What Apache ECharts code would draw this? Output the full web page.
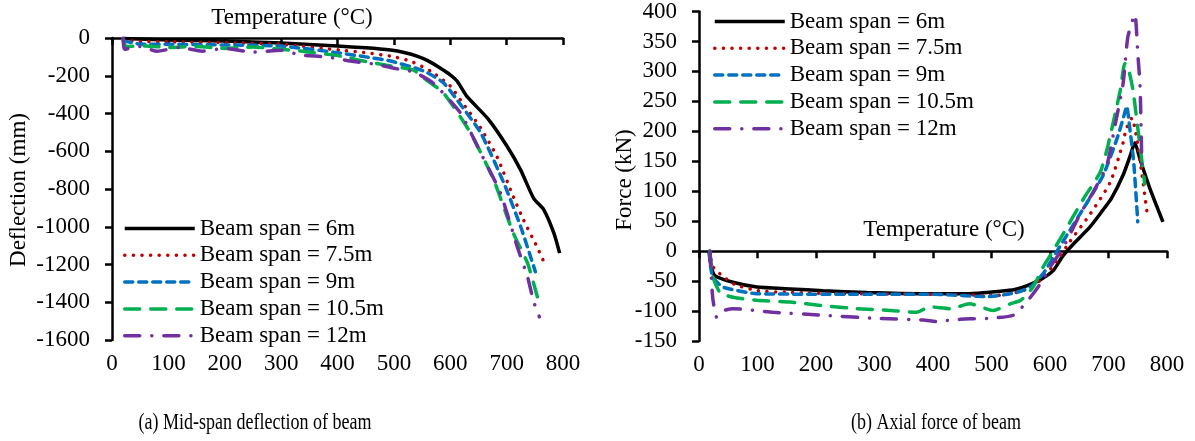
<!DOCTYPE html>
<html>
<head>
<meta charset="utf-8">
<script src="https://cdn.jsdelivr.net/npm/echarts@6/dist/echarts.min.js"></script>
<style>
  html, body { margin: 0; padding: 0; background: #fff; }
  #chart { width: 1195px; height: 441px; }
</style>
</head>
<body>
<div id="chart"></div>
<script>
// Series names shared by both panels
const spanNames = ['Beam span = 6m', 'Beam span = 7.5m', 'Beam span = 9m', 'Beam span = 10.5m', 'Beam span = 12m'];

// Panel (a): mid-span deflection (mm) against temperature (°C), [T, deflection]
const deflection6 = [[20,-3],[100,-10],[200,-16],[300,-27],[400,-43],[450,-52],[494,-64],[520,-78],[541,-96],[560,-120],[582,-159],[600,-195],[612,-228],[630,-311],[666,-425],[701,-575],[725,-700],[748,-850],[766,-910],[784,-1035],[794,-1140]];
const deflection75 = [[20,-10],[50,-18],[100,-20],[200,-25],[300,-33],[405,-64],[450,-78],[494,-96],[529,-122],[565,-175],[600,-254],[618,-328],[654,-477],[683,-630],[712,-842],[730,-964],[754,-1107],[767,-1192]];
const deflection9 = [[20,-15],[50,-32],[100,-33],[200,-37],[300,-43],[405,-80],[450,-100],[494,-122],[553,-175],[588,-238],[612,-328],[654,-503],[695,-768],[725,-1000],[751,-1238]];
const deflection105 = [[20,-5],[25,-45],[60,-42],[100,-50],[150,-45],[200,-55],[250,-48],[300,-60],[334,-69],[405,-96],[446,-122],[494,-148],[535,-170],[553,-212],[588,-292],[636,-503],[677,-752],[712,-1035],[737,-1192],[755,-1377]];
const deflection12 = [[20,0],[22,-60],[50,-45],[80,-70],[120,-50],[160,-70],[200,-55],[250,-75],[300,-65],[334,-90],[380,-100],[423,-122],[470,-140],[500,-160],[535,-180],[570,-240],[618,-397],[654,-609],[689,-821],[719,-1107],[737,-1265],[748,-1397],[758,-1477]];

// Panel (b): axial force (kN) against temperature (°C), [T, force]
const force6 = [[17,0],[20,-22],[27,-41],[58,-52],[99,-60],[156,-63],[212,-66],[287,-69],[383,-71],[460,-71],[515,-67],[540,-64],[560,-58],[583,-48],[605,-33],[622,-8],[640,12],[668,40],[690,68],[705,88],[725,127],[737,159],[745,181],[754,153],[771,104],[793,49]];
const force75 = [[18,0],[20,-11],[23,-25],[36,-38],[60,-55],[100,-66],[156,-69],[250,-71],[400,-72],[509,-74],[554,-66],[583,-49],[612,-16],[634,16],[668,61],[703,115],[725,181],[730,203],[740,222],[748,190],[757,130],[766,64]];
const force9 = [[18,0],[20,-27],[24,-44],[41,-60],[99,-71],[250,-72],[400,-72],[494,-76],[543,-69],[566,-60],[588,-38],[612,0],[622,16],[657,71],[691,127],[716,192],[729,235],[731,242],[737,200],[743,150],[750,49]];
const force105 = [[18,0],[22,-30],[24,-44],[36,-69],[58,-77],[99,-82],[156,-85],[212,-91],[270,-96],[327,-99],[372,-102],[395,-93],[429,-96],[463,-88],[503,-99],[532,-88],[550,-82],[571,-60],[588,-27],[605,0],[622,28],[657,87],[686,132],[699,176],[720,268],[728,313],[735,300],[742,268],[752,190],[762,112]];
const force12 = [[19,0],[22,-60],[24,-82],[30,-110],[40,-100],[58,-96],[127,-102],[212,-107],[298,-112],[383,-115],[410,-118],[429,-115],[463,-113],[497,-112],[537,-107],[560,-85],[583,-55],[600,-27],[622,5],[651,61],[674,99],[697,143],[711,209],[725,280],[733,357],[745,395],[750,330],[754,275],[757,140]];

const deflectionSets = [deflection6, deflection75, deflection9, deflection105, deflection12];
const forceSets = [force6, force75, force9, force105, force12];

const FONT = "'Liberation Serif', 'Times New Roman', serif";
const FONT_SIZE = 23;

const lineStyles = [
  { color: '#000000', width: 3.5, type: 'solid' },
  { color: '#C00000', width: 3.5, type: [0.1, 8.5], cap: 'round' },
  { color: '#0070C0', width: 3.5, type: [8, 6], cap: 'round' },
  { color: '#00B050', width: 3.5, type: [15, 11], cap: 'round' },
  { color: '#7030A0', width: 3.5, type: [15, 12, 0.1, 12], cap: 'round' }
];

function makeSeries(sets, axisIndex) {
  return sets.map((data, i) => ({
    name: spanNames[i],
    type: 'line',
    xAxisIndex: axisIndex,
    yAxisIndex: axisIndex,
    data: data,
    symbol: 'none',
    showSymbol: false,
    smooth: 0.2,
    lineStyle: lineStyles[i],
    itemStyle: { color: lineStyles[i].color },
    emphasis: { disabled: true },
    silent: true
  }));
}

const axisLineStyle = { color: '#000', width: 2.5 };
const labelStyle = { fontFamily: FONT, fontSize: FONT_SIZE, color: '#000', formatter: (v) => String(v) };

function xAxisCfg(gridIndex) {
  return {
    gridIndex: gridIndex, type: 'value', min: 0, max: 800, interval: 100,
    axisLine: { show: true, onZero: true, lineStyle: axisLineStyle },
    axisTick: { show: true, length: 7, lineStyle: axisLineStyle },
    axisLabel: Object.assign({ margin: 12 }, labelStyle),
    splitLine: { show: false }
  };
}

function yAxisCfg(gridIndex, min, max, interval) {
  return {
    gridIndex: gridIndex, type: 'value', min: min, max: max, interval: interval,
    axisLine: { show: true, onZero: false, lineStyle: axisLineStyle },
    axisTick: { show: true, length: 7, lineStyle: axisLineStyle },
    axisLabel: Object.assign({ margin: 22 }, labelStyle),
    splitLine: { show: false }
  };
}

// Legend shows only the stroke sample (no point marker)
const legendBase = {
  orient: 'vertical', itemWidth: 70, itemHeight: 14, itemGap: 3.8, padding: 0,
  selectedMode: false, data: spanNames,
  itemStyle: { opacity: 0 },
  lineStyle: { width: 3.5 },
  textStyle: { fontFamily: FONT, fontSize: FONT_SIZE, color: '#000', lineHeight: 23 }
};

function textEl(text, x, y, extra, size) {
  return Object.assign({
    type: 'text', x: x, y: y, silent: true,
    style: { text: text, font: (size || FONT_SIZE) + 'px ' + FONT, fill: '#000', align: 'center', verticalAlign: 'middle' }
  }, extra || {});
}

const chart = echarts.init(document.getElementById('chart'), null, { renderer: 'canvas' });
chart.setOption({
  backgroundColor: '#ffffff',
  animation: false,
  grid: [
    { left: 112, top: 38, width: 451, height: 302 },
    { left: 699, top: 7, width: 468, height: 334 }
  ],
  xAxis: [xAxisCfg(0), xAxisCfg(1)],
  yAxis: [yAxisCfg(0, -1600, 0, 200), yAxisCfg(1, -150, 400, 50)],
  legend: [
    Object.assign({ left: 123, top: 217 }, legendBase),
    Object.assign({ left: 713, top: 10 }, legendBase)
  ],
  series: makeSeries(deflectionSets, 0).concat(makeSeries(forceSets, 1)),
  graphic: [
    textEl('Temperature (°C)', 292, 18),
    textEl('Temperature (°C)', 944, 230),
    textEl('Deflection (mm)', 19, 190, { rotation: Math.PI / 2 }),
    textEl('Force (kN)', 625, 180, { rotation: Math.PI / 2 }),
    textEl('(a) Mid-span deflection of beam', 255, 423, { scaleX: 0.75 }, 24),
    textEl('(b) Axial force of beam', 936, 423, { scaleX: 0.75 }, 24)
  ]
});
</script>
</body>
</html>
